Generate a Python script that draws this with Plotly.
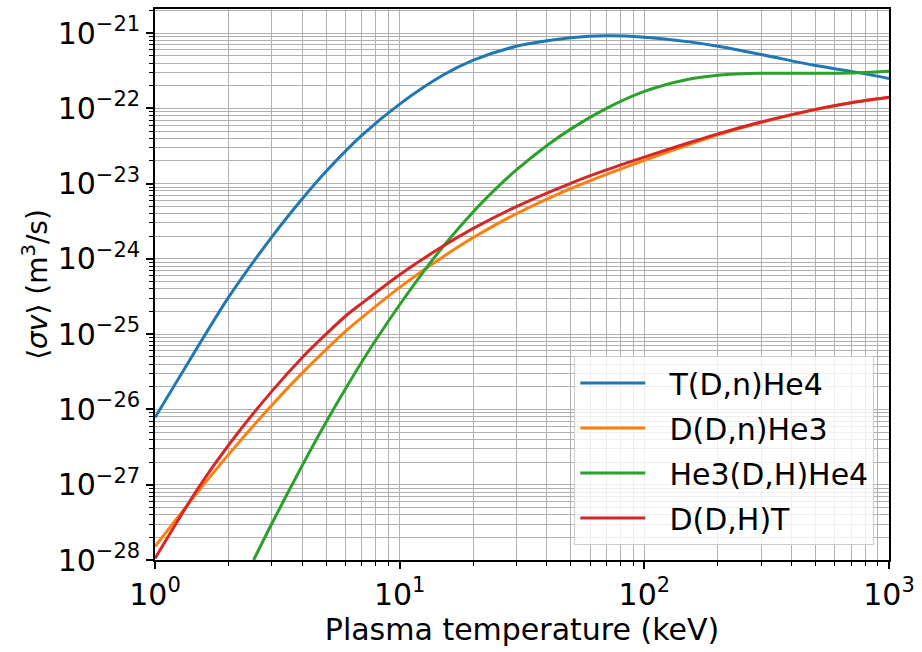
import plotly.graph_objects as go

# Fusion reactivities <sigma v> (m^3/s) versus plasma temperature (keV)
t_dt = [1, 1.5, 2, 3, 4, 5, 7, 10, 15, 20, 30, 40, 50, 70, 100, 150, 200, 300, 500, 700, 1000]
sv_dt = [7.8e-27, 6.9e-26, 3.1e-25, 1.95e-24, 6.3e-24, 1.45e-23, 4.37e-23, 1.14e-22, 2.75e-22,
         4.37e-22, 6.7e-22, 7.9e-22, 8.7e-22, 9.2e-22, 8.8e-22, 7.7e-22, 6.7e-22, 5.2e-22,
         3.7e-22, 3.1e-22, 2.5e-22]

t_ddn = [1, 1.5, 2, 3, 4, 5, 6, 7, 10, 15, 20, 30, 50, 70, 100, 150, 200, 300, 500, 700, 1000]
sv_ddn = [1.51e-28, 8.1e-28, 2.53e-27, 1.14e-26, 3.06e-26, 6.25e-26, 1.09e-25, 1.66e-25, 4.19e-25,
          1.06e-24, 1.92e-24, 3.98e-24, 8.57e-24, 1.33e-23, 2.04e-23, 3.24e-23, 4.45e-23, 6.49e-23,
          9.66e-23, 1.19e-22, 1.41e-22]

t_dhe3 = [2.53, 3, 4, 5, 6, 7, 8, 10, 12.7, 15, 20, 25.3, 30, 40, 50, 70, 100, 150, 200, 300, 500, 700, 1000]
sv_dhe3 = [1.0e-28, 3.03e-28, 1.81e-27, 6.76e-27, 1.87e-26, 4.27e-26, 8.43e-26, 2.46e-25, 7.21e-25,
           1.44e-24, 4.23e-24, 9.18e-24, 1.52e-23, 3.21e-23, 5.3e-23, 1.0e-22, 1.68e-22, 2.42e-22,
           2.75e-22, 2.92e-22, 2.92e-22, 2.95e-22, 3.11e-22]

t_ddp = [1, 1.5, 2, 3, 4, 5, 6, 7, 10, 15, 20, 30, 50, 70, 100, 150, 200, 300, 500, 700, 1000]
sv_ddp = [1.05e-28, 8.97e-28, 3.37e-27, 1.74e-26, 4.91e-26, 1.0e-25, 1.73e-25, 2.57e-25, 6.17e-25,
          1.47e-24, 2.54e-24, 4.95e-24, 1.01e-23, 1.52e-23, 2.25e-23, 3.44e-23, 4.59e-23, 6.6e-23,
          9.7e-23, 1.19e-22, 1.41e-22]

series = [
    ("T(D,n)He4", t_dt, sv_dt, "#1f77b4"),
    ("D(D,n)He3", t_ddn, sv_ddn, "#ff7f0e"),
    ("He3(D,H)He4", t_dhe3, sv_dhe3, "#2ca02c"),
    ("D(D,H)T", t_ddp, sv_ddp, "#d62728"),
]

x_major = [1, 10, 100, 1000]
x_labels = ["10<sup>0</sup>", "10<sup>1</sup>", "10<sup>2</sup>", "10<sup>3</sup>"]
y_exponents = list(range(-28, -20))
y_major = [10.0 ** e for e in y_exponents]
y_labels = ["10<sup>\u2212%d</sup>" % (-e) for e in y_exponents]

x_minor = [m * 10 ** d for d in range(0, 3) for m in range(2, 10)]
y_minor = [m * 10.0 ** e for e in range(-28, -20) for m in range(2, 10)]

FONT = "DejaVu Sans"
GRID = "#b0b0b0"

fig = go.Figure()
for i, (name, t, sv, col) in enumerate(series):
    fig.add_trace(go.Scatter(
        x=t, y=sv, mode="lines", name="\u00a0\u00a0" + name, legendgroup=str(i),
        line=dict(color=col, width=3, shape="spline", smoothing=0.8),
        cliponaxis=True,
    ))

axis_common = dict(
    type="log",
    showline=True, linecolor="black", linewidth=1.6, mirror=True,
    ticks="outside", ticklen=7, tickwidth=1.5, tickcolor="black",
    showgrid=True, gridcolor=GRID, gridwidth=1.3,
    zeroline=False,
    tickfont=dict(family=FONT, size=30, color="black"),
    tickmode="array",
)

fig.update_xaxes(
    **axis_common,
    range=[0, 3],
    tickvals=x_major, ticktext=x_labels,
    minor=dict(tickmode="array", tickvals=x_minor, ticks="outside", ticklen=4,
               tickwidth=1, tickcolor="black", showgrid=True, gridcolor=GRID, gridwidth=1.3),
    title=dict(text="Plasma temperature (keV)", font=dict(family=FONT, size=30, color="black"),
               standoff=5),
)
fig.update_yaxes(
    **axis_common,
    range=[-28, -20.68],
    tickvals=y_major, ticktext=y_labels,
    minor=dict(tickmode="array", tickvals=y_minor, ticks="outside", ticklen=4,
               tickwidth=1, tickcolor="black", showgrid=True, gridcolor=GRID, gridwidth=1.3),
    title=dict(text="\u27e8<i>\u03c3v</i>\u27e9 (m<sup>3</sup>/s)",
               font=dict(family=FONT, size=28, color="black"), standoff=2),
)

fig.update_layout(
    width=922, height=652,
    margin=dict(l=155, r=29, t=7, b=92),
    paper_bgcolor="white", plot_bgcolor="white",
    font=dict(family=FONT, color="black"),
    showlegend=True,
    legend=dict(
        x=0.98, y=0.027, xanchor="right", yanchor="bottom",
        bgcolor="rgba(255,255,255,0.8)", bordercolor="#cccccc", borderwidth=1,
        font=dict(family=FONT, size=30, color="black"),
        itemwidth=65, tracegroupgap=3,
    ),
)

fig.write_html("out.html")
